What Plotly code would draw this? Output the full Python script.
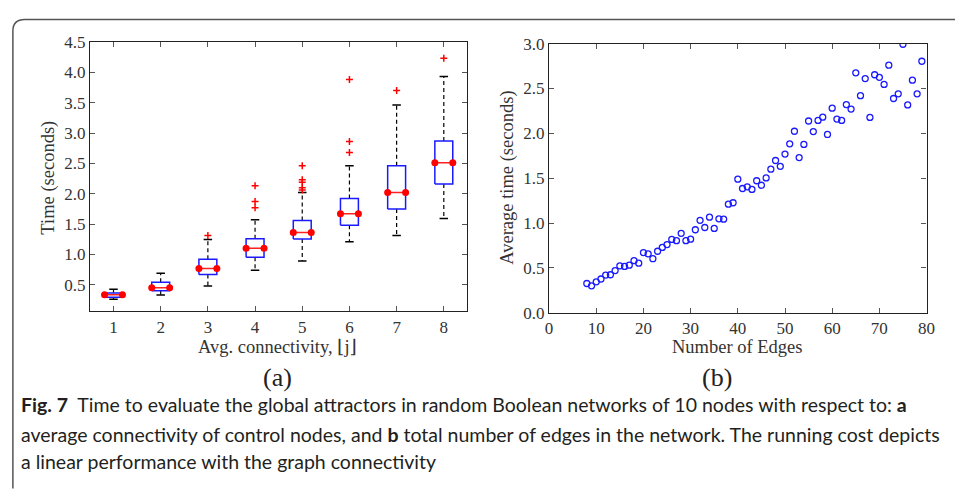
import plotly.graph_objects as go

W, H = 955, 489

# ---------------- data: (a) box plot statistics ----------------
connectivity = [1, 2, 3, 4, 5, 6, 7, 8]
q1_vals = [0.295, 0.40, 0.67, 0.955, 1.255, 1.48, 1.75, 2.16]
median_vals = [0.335, 0.45, 0.77, 1.10, 1.36, 1.67, 2.02, 2.51]
q3_vals = [0.365, 0.54, 0.92, 1.26, 1.56, 1.92, 2.46, 2.87]
whisker_low = [0.262, 0.33, 0.48, 0.74, 0.89, 1.21, 1.31, 1.59]
whisker_high = [0.426, 0.69, 1.245, 1.57, 2.02, 2.46, 3.46, 3.93]
outlier_vals = [[], [], [1.31], [2.13, 1.87, 1.77], [2.46, 2.23, 2.19, 2.10, 2.06],
                [2.68, 2.86, 3.88], [3.70], [4.23]]

# ---------------- data: (b) scatter ----------------
edges = list(range(8, 80))
avg_time = [0.326, 0.30, 0.344, 0.376, 0.42, 0.423, 0.47, 0.523, 0.516, 0.53,
            0.58, 0.552, 0.67, 0.656, 0.602, 0.685, 0.728, 0.76, 0.817, 0.803,
            0.885, 0.803, 0.82, 0.925, 1.03, 0.95, 1.065, 0.94, 1.047, 1.043,
            1.21, 1.226, 1.489, 1.385, 1.403, 1.374, 1.471, 1.421, 1.503, 1.60,
            1.697, 1.632, 1.768, 1.883, 2.023, 1.729, 1.876, 2.137, 2.019, 2.144,
            2.18, 1.987, 2.28, 2.159, 2.144, 2.32, 2.27, 2.674, 2.42, 2.61,
            2.177, 2.653, 2.624, 2.545, 2.76, 2.388, 2.44, 2.993, 2.316, 2.592,
            2.44, 2.803]

x_ticks_a = [1, 2, 3, 4, 5, 6, 7, 8]
y_ticks_a = [0.5, 1.0, 1.5, 2.0, 2.5, 3.0, 3.5, 4.0, 4.5]
x_ticks_b = [0, 10, 20, 30, 40, 50, 60, 70, 80]
y_ticks_b = [0.0, 0.5, 1.0, 1.5, 2.0, 2.5, 3.0]

BOX_HALF = 0.19
CAP_HALF = 0.09

def px(x):
    return x / W

def py(y):
    return 1 - y / H

fig = go.Figure()

bx, by = [], []
wx, wy = [], []
cx, cy = [], []
mx, my = [], []
ox, oy = [], []
for p, a, m, b, lo, hi, outs in zip(connectivity, q1_vals, median_vals, q3_vals,
                                     whisker_low, whisker_high, outlier_vals):
    bx += [p - BOX_HALF, p + BOX_HALF, p + BOX_HALF, p - BOX_HALF, p - BOX_HALF, None]
    by += [a, a, b, b, a, None]
    wx += [p, p, None, p, p, None]
    wy += [b, hi, None, a, lo, None]
    cx += [p - CAP_HALF, p + CAP_HALF, None, p - CAP_HALF, p + CAP_HALF, None]
    cy += [hi, hi, None, lo, lo, None]
    mx += [p - BOX_HALF, p + BOX_HALF, None]
    my += [m, m, None]
    for o in outs:
        ox.append(p)
        oy.append(o)

fig.add_trace(go.Scatter(x=wx, y=wy, mode="lines", xaxis="x", yaxis="y",
                         line=dict(color="black", width=1.2, dash="4px,3px"),
                         showlegend=False, hoverinfo="skip"))
fig.add_trace(go.Scatter(x=cx, y=cy, mode="lines", xaxis="x", yaxis="y",
                         line=dict(color="black", width=1.5),
                         showlegend=False, hoverinfo="skip"))
fig.add_trace(go.Scatter(x=bx, y=by, mode="lines", xaxis="x", yaxis="y",
                         line=dict(color="#1a1aff", width=1.5),
                         showlegend=False, hoverinfo="skip"))
fig.add_trace(go.Scatter(x=mx, y=my, mode="lines+markers", xaxis="x", yaxis="y",
                         line=dict(color="#ff2020", width=1.5),
                         marker=dict(color="#ff0000", size=7),
                         showlegend=False, hoverinfo="skip"))
fig.add_trace(go.Scatter(x=ox, y=oy, mode="markers", xaxis="x", yaxis="y",
                         marker=dict(symbol="cross-thin", size=5, color="#ff0000",
                                     line=dict(color="#ff0000", width=1.5)),
                         showlegend=False, hoverinfo="skip"))

fig.add_trace(go.Scatter(x=edges, y=avg_time, mode="markers", xaxis="x2", yaxis="y2",
                         marker=dict(symbol="circle-open", size=6, color="#1a1aff",
                                     line=dict(color="#1a1aff", width=1.3)),
                         showlegend=False, hoverinfo="skip"))

tick_font = dict(family="Liberation Serif, DejaVu Serif, serif", size=17, color="#333333")
axis_common = dict(showline=True, linecolor="#222222", linewidth=1.2, mirror="ticks",
                   ticks="inside", ticklen=5, tickwidth=1, tickcolor="#555555",
                   showgrid=False, zeroline=False, tickfont=tick_font)

fig.update_layout(
    width=W, height=H,
    margin=dict(l=0, r=0, t=0, b=0),
    paper_bgcolor="white", plot_bgcolor="white",
    xaxis=dict(domain=[px(87), px(469.3)], range=[0.5, 8.5], tickvals=x_ticks_a,
               ticktext=[str(v) for v in x_ticks_a], anchor="y", **axis_common),
    yaxis=dict(domain=[py(314.7), py(34.3)], range=[0.06, 4.5], tickvals=y_ticks_a,
               ticktext=["%.1f" % v for v in y_ticks_a], anchor="x", **axis_common),
    xaxis2=dict(domain=[px(552), px(934.3)], range=[0, 80], tickvals=x_ticks_b,
                ticktext=[str(v) for v in x_ticks_b], anchor="y2", **axis_common),
    yaxis2=dict(domain=[py(316), py(36)], range=[0, 3.0], tickvals=y_ticks_b,
                ticktext=["%.1f" % v for v in y_ticks_b], anchor="x2", **axis_common),
)

serif = "Liberation Serif, DejaVu Serif, serif"
label_font = dict(family=serif, size=18.5, color="#333333")

annos = [
    dict(text="Avg. connectivity, ⌊j⌋", x=px(277), y=py(352), font=label_font),
    dict(text="Number of Edges", x=px(743), y=py(352), font=label_font),
    dict(text="Time (seconds)", x=px(45), y=py(175), font=label_font, textangle=-90),
    dict(text="Average time (seconds)", x=px(510), y=py(176), font=label_font, textangle=-90),
    dict(text="(a)", x=px(277), y=py(383), font=dict(family=serif, size=26, color="#222222")),
    dict(text="(b)", x=px(722), y=py(383), font=dict(family=serif, size=26, color="#222222")),
]
for a in annos:
    fig.add_annotation(xref="paper", yref="paper", showarrow=False,
                       xanchor="center", yanchor="middle", **a)

cap_font = dict(family="Lato, sans-serif", size=19.5, color="#231f20")
caption_lines = [
    "<b>Fig. 7</b>  Time to evaluate the global attractors in random Boolean networks of 10 nodes with respect to: <b>a</b>",
    "average connectivity of control nodes, and <b>b</b> total number of edges in the network. The running cost depicts",
    "a linear performance with the graph connectivity",
]
for line, yc in zip(caption_lines, [412, 443, 471]):
    fig.add_annotation(xref="paper", yref="paper", showarrow=False, text=line,
                       x=px(15), y=py(yc), xanchor="left", yanchor="middle",
                       align="left", font=cap_font)

frame_path = ("M {x0},{yb} L {x0},{y1} Q {x0},{yt} {x2},{yt} L {xr},{yt}").format(
    x0=px(9), yb=-0.02, y1=py(23), yt=py(11), x2=px(21), xr=1.02)
fig.add_shape(type="path", xref="paper", yref="paper", path=frame_path,
              line=dict(color="#555555", width=1.5))

fig.write_html("out.html")
